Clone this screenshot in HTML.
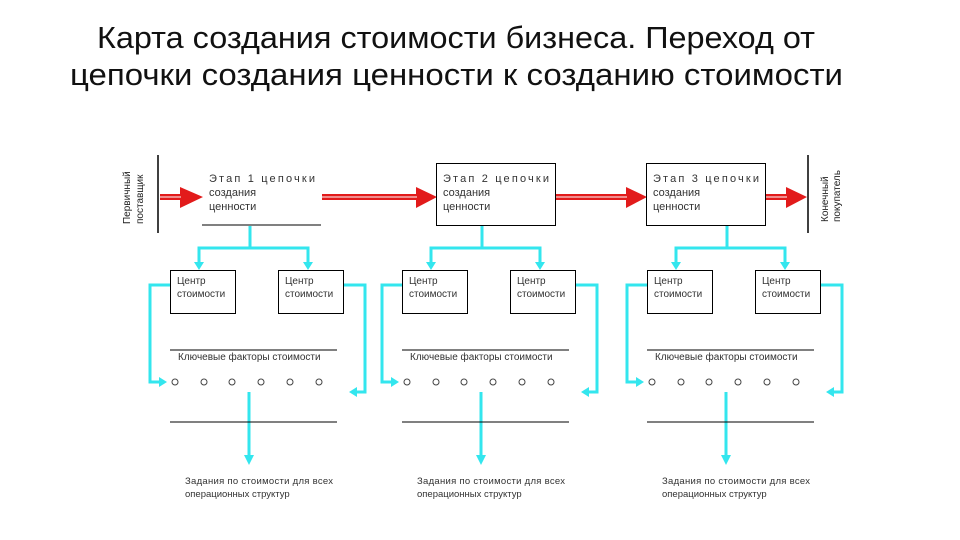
<!DOCTYPE html>
<html><head><meta charset="utf-8"><style>body{margin:0;background:#fff}svg{display:block}</style></head><body>
<svg width="960" height="540" viewBox="0 0 960 540" xmlns="http://www.w3.org/2000/svg" font-family="Liberation Sans, sans-serif">
<text x="97" y="48" font-size="31" textLength="718" lengthAdjust="spacingAndGlyphs" fill="#111">Карта создания стоимости бизнеса. Переход от</text>
<text x="70" y="85" font-size="31" textLength="773" lengthAdjust="spacingAndGlyphs" fill="#111">цепочки создания ценности к созданию стоимости</text>

<line x1="158" y1="155" x2="158" y2="233" stroke="#000" stroke-width="1.5"/>
<line x1="808" y1="155" x2="808" y2="233" stroke="#000" stroke-width="1.5"/>
<text transform="translate(130,224) rotate(-90)" font-size="10" fill="#222">Первичный</text>
<text transform="translate(143,224) rotate(-90)" font-size="10" fill="#222">поставщик</text>
<text transform="translate(828,222) rotate(-90)" font-size="10" fill="#222">Конечный</text>
<text transform="translate(840,222) rotate(-90)" font-size="10" fill="#222">покупатель</text>

<g fill="#e21b1b" stroke="none">
<rect x="160" y="194" width="22" height="6"/><path d="M180,187 L203,197 L180,208 Z"/>
<rect x="322" y="194" width="96" height="6"/><path d="M416,187 L437,197 L416,208 Z"/>
<rect x="556" y="194" width="72" height="6"/><path d="M626,187 L647,197 L626,208 Z"/>
<rect x="766" y="194" width="22" height="6"/><path d="M786,187 L807,197 L786,208 Z"/>
</g>
<g stroke="#fff" stroke-width="1"><line x1="160" y1="197" x2="181" y2="197"/><line x1="322" y1="197" x2="417" y2="197"/><line x1="556" y1="197" x2="627" y2="197"/><line x1="766" y1="197" x2="787" y2="197"/></g>

<line x1="202" y1="225" x2="321" y2="225" stroke="#000"/>
<rect x="436.5" y="163.5" width="119" height="62" fill="none" stroke="#000"/>
<rect x="646.5" y="163.5" width="119" height="62" fill="none" stroke="#000"/>
<g font-size="11" fill="#333">
<text x="209" y="182" textLength="106">Этап 1 цепочки</text><text x="209" y="196">создания</text><text x="209" y="210">ценности</text>
<text x="443" y="182" textLength="106">Этап 2 цепочки</text><text x="443" y="196">создания</text><text x="443" y="210">ценности</text>
<text x="653" y="182" textLength="106">Этап 3 цепочки</text><text x="653" y="196">создания</text><text x="653" y="210">ценности</text>
</g>

<g id="b">
<g stroke="#33e6ee" stroke-width="3" fill="none">
<polyline points="250,226 250,248"/>
<polyline points="199,262 199,248 308,248 308,262"/>
<polyline points="170,285 150,285 150,382 160,382"/>
<polyline points="343,285 365,285 365,392 356,392"/>
<polyline points="249,392 249,455"/>
</g>
<g fill="#33e6ee"><path d="M194,262 L204,262 L199,270 Z"/><path d="M303,262 L313,262 L308,270 Z"/><path d="M159,377 L167,382 L159,387 Z"/><path d="M357,387 L349,392 L357,397 Z"/><path d="M244,455 L254,455 L249,465 Z"/></g>
<rect x="170.5" y="270.5" width="65" height="43" fill="none" stroke="#000"/>
<rect x="278.5" y="270.5" width="65" height="43" fill="none" stroke="#000"/>
<g font-size="10" fill="#333"><text x="177" y="284">Центр</text><text x="177" y="297">стоимости</text><text x="285" y="284">Центр</text><text x="285" y="297">стоимости</text>
<text x="178" y="360">Ключевые факторы стоимости</text>
<text x="185" y="484" font-size="9.5" textLength="148">Задания по стоимости для всех</text><text x="185" y="497" font-size="9.5">операционных структур</text></g>
<line x1="170" y1="350" x2="337" y2="350" stroke="#000"/>
<line x1="170" y1="422" x2="337" y2="422" stroke="#000"/>
<g fill="none" stroke="#444"><circle cx="175" cy="382" r="3"/><circle cx="204" cy="382" r="3"/><circle cx="232" cy="382" r="3"/><circle cx="261" cy="382" r="3"/><circle cx="290" cy="382" r="3"/><circle cx="319" cy="382" r="3"/></g>
</g>
<use href="#b" x="232"/>
<use href="#b" x="477"/>
</svg>
</body></html>
